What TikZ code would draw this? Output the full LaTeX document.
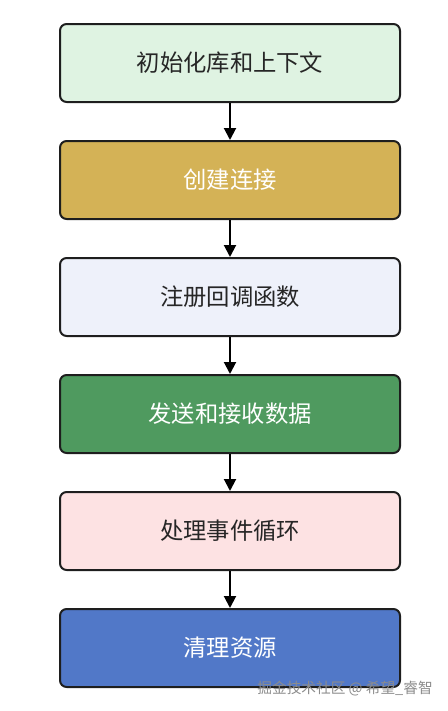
\documentclass[tikz,border=0pt]{standalone}
\usepackage{fontspec}
\setmainfont{Noto Sans CJK SC}
\newfontfamily\cjk{Noto Sans CJK SC}
\usetikzlibrary{arrows.meta}
\definecolor{cA}{HTML}{DFF3E2}
\definecolor{cB}{HTML}{D4B256}
\definecolor{cC}{HTML}{EEF1FA}
\definecolor{cD}{HTML}{4F9A5F}
\definecolor{cE}{HTML}{FDE2E3}
\definecolor{cF}{HTML}{5178C8}
\definecolor{edge}{HTML}{1E1E1E}
\begin{document}
\begin{tikzpicture}[x=0.75pt,y=-0.75pt,
  stepbox/.style={draw=edge,line width=1.5pt,rounded corners=5pt,minimum width=255pt,minimum height=58.5pt,inner sep=0pt,font=\cjk\fontsize{17.5}{21}\selectfont},
  conn/.style={draw=black,line width=1.5pt,-{Triangle[length=9pt,width=9pt]}}]
\useasboundingbox (0,0) rectangle (447,711);
\node[stepbox,fill=cA,text=black!85] (n1) at (230,63) {初始化库和上下文};
\node[stepbox,fill=cB,text=white] (n2) at (230,180) {创建连接};
\node[stepbox,fill=cC,text=black!85] (n3) at (230,297) {注册回调函数};
\node[stepbox,fill=cD,text=white] (n4) at (230,414) {发送和接收数据};
\node[stepbox,fill=cE,text=black!85] (n5) at (230,531) {处理事件循环};
\node[stepbox,fill=cF,text=white] (n6) at (230,648) {清理资源};
\draw[conn] (n1) -- (n2);
\draw[conn] (n2) -- (n3);
\draw[conn] (n3) -- (n4);
\draw[conn] (n4) -- (n5);
\draw[conn] (n5) -- (n6);
\node[anchor=east,inner sep=0pt,text=black!45,font=\cjk\fontsize{11}{13}\selectfont] (wm) at (433,689) {掘金技术社区 @ 希望\_睿智};
\end{tikzpicture}
\end{document}
